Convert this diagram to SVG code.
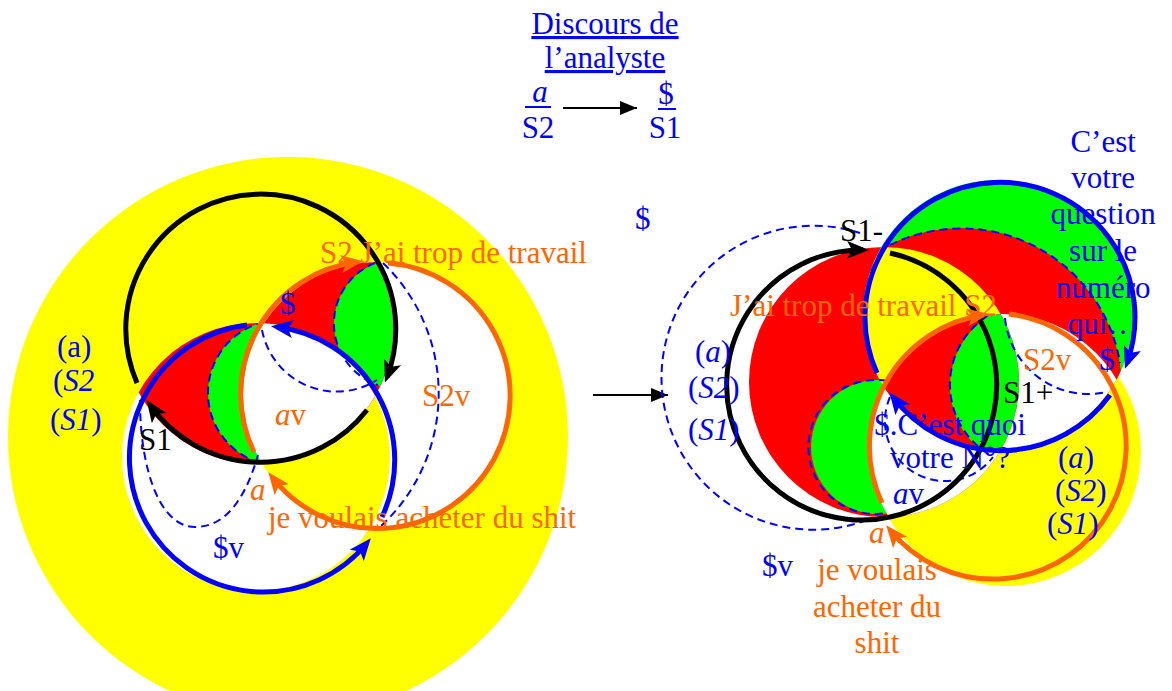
<svg xmlns="http://www.w3.org/2000/svg" width="1172" height="691" viewBox="0 0 1172 691">
<style>
.t{font-family:"Liberation Serif","Times New Roman",serif;font-size:31px}
.b{fill:#0000ff}.o{fill:#ff6600}.k{fill:#000}
.i{font-style:italic}
.ring{fill:none;stroke-width:5}
.rk{stroke:#000}.rb{stroke:#0000ff}.ro{stroke:#ff6600}
.dash{fill:none;stroke:#0000ff;stroke-width:2;stroke-dasharray:8 5}
.conn{stroke:#000;stroke-width:2;fill:none}
</style>
<defs>
<marker id="ak" markerUnits="userSpaceOnUse" markerWidth="24" markerHeight="20" refX="16" refY="9" orient="auto"><path d="M0,0 L22,9 L0,18 L5,9 Z" fill="#000"/></marker>
<marker id="ab" markerUnits="userSpaceOnUse" markerWidth="24" markerHeight="20" refX="16" refY="9" orient="auto"><path d="M0,0 L22,9 L0,18 L5,9 Z" fill="#0000ff"/></marker>
<marker id="ao" markerUnits="userSpaceOnUse" markerWidth="24" markerHeight="20" refX="16" refY="9" orient="auto"><path d="M0,0 L22,9 L0,18 L5,9 Z" fill="#ff6600"/></marker>
<marker id="as" markerUnits="userSpaceOnUse" markerWidth="20" markerHeight="16" refX="17" refY="7" orient="auto"><path d="M0,0 L17,7 L0,14 Z" fill="#000"/></marker>
<clipPath id="cB1"><circle cx="256" cy="457" r="134"/></clipPath>
<clipPath id="cO1"><circle cx="376" cy="395" r="133"/></clipPath>
<clipPath id="cK1"><circle cx="258" cy="329" r="135"/></clipPath>
<clipPath id="cB2"><circle cx="998" cy="315" r="135"/></clipPath>
<clipPath id="cO2"><circle cx="1002" cy="447" r="133"/></clipPath>
<clipPath id="cK2"><circle cx="884" cy="382" r="135"/></clipPath>
</defs>
<rect width="1172" height="691" fill="#fff"/>

<g id="title">
<text class="t b" x="605" y="34" text-anchor="middle" text-decoration="underline">Discours de</text>
<text class="t b" x="605" y="68" text-anchor="middle" text-decoration="underline">l’analyste</text>
<text class="t b i" x="540" y="102" text-anchor="middle">a</text>
<line x1="525" y1="107" x2="551" y2="107" stroke="#0000ff" stroke-width="2"/>
<text class="t b" x="538" y="138" text-anchor="middle">S2</text>
<text class="t b" x="666" y="104" text-anchor="middle">$</text>
<line x1="658" y1="109" x2="676" y2="109" stroke="#0000ff" stroke-width="2"/>
<text class="t b" x="665" y="138" text-anchor="middle">S1</text>
</g>

<g id="left-fills">
<circle cx="288" cy="437" r="280" fill="#ffff00"/>
<circle cx="256" cy="457" r="134" fill="#fff"/>
<circle cx="376" cy="395" r="133" fill="#fff"/>
<circle cx="376" cy="395" r="133" fill="#ffff00" clip-path="url(#cB1)"/>
<circle cx="258" cy="329" r="135" fill="#ff0000" clip-path="url(#cB1)"/>
<circle cx="258" cy="329" r="135" fill="#ff0000" clip-path="url(#cO1)"/>
<g clip-path="url(#cK1)"><circle cx="281" cy="393" r="73" fill="#00ff00" clip-path="url(#cB1)"/></g>
<g clip-path="url(#cK1)"><circle cx="399" cy="324" r="65" fill="#00ff00" clip-path="url(#cO1)"/></g>
<g clip-path="url(#cB1)"><circle cx="258" cy="329" r="135" fill="#fff" clip-path="url(#cO1)"/></g>
</g>

<g id="left-dashed">
<g clip-path="url(#cK1)"><path class="dash" d="M264,322 A73,73 0 0,0 264,464" clip-path="url(#cB1)"/></g>
<path class="dash" d="M375,263 A65,65 0 0,0 378,385"/>
<path class="dash" d="M262,330 A76,76 0 0,0 377,380"/>
<path class="dash" d="M383,263 A181,181 0 0,1 380,527"/>
<path class="dash" d="M140,400 C140,470 160,527 195,527 C225,527 245,500 258,455"/>
</g>

<g id="left-S1">
<path class="ring rk" d="M137,383 A135,135 0 1,1 387,377" marker-end="url(#ak)"/>
<path class="ring rk" d="M367,410 A135,135 0 0,1 150,405" marker-end="url(#ak)"/>
</g>
<g id="left-barred-S">
<path class="ring rb" d="M247,325 A134,134 0 1,0 367,543" marker-end="url(#ab)"/>
<path class="ring rb" d="M382,517 A134,134 0 0,0 277,327" marker-end="url(#ab)"/>
</g>
<g id="left-S2">
<path class="ring ro" d="M254,452 A133,133 0 0,1 357,262" marker-end="url(#ao)"/>
<path class="ring ro" d="M388,263 A133,133 0 1,1 272,477" marker-end="url(#ao)"/>
</g>

<g id="left-labels">
<text class="t o" x="320" y="263">S2 J’ai trop de travail</text>
<text class="t b" x="280" y="314">$</text>
<text class="t b" x="57" y="357">(a)</text>
<text class="t b" x="53" y="391">(<tspan class="i">S2</tspan></text>
<text class="t b" x="50" y="430">(<tspan class="i">S1</tspan>)</text>
<text class="t k" x="139" y="450">S1</text>
<text class="t o" x="275" y="425"><tspan class="i">a</tspan>v</text>
<text class="t o" x="422" y="406">S2v</text>
<text class="t o i" x="250" y="500">a</text>
<text class="t o" x="268" y="528">je voulais acheter du shit</text>
<text class="t b" x="213" y="558">$v</text>
</g>

<g id="connectors">
<line class="conn" x1="563" y1="108" x2="637" y2="108" marker-end="url(#as)"/>
<line class="conn" x1="593" y1="395" x2="668" y2="395" marker-end="url(#as)"/>
</g>

<g id="right-fills">
<circle cx="1006" cy="451" r="135" fill="#ffff00"/>
<circle cx="998" cy="315" r="135" fill="#00ff00"/>
<circle cx="961" cy="389" r="161" fill="#ff0000" clip-path="url(#cB2)"/>
<circle cx="884" cy="382" r="135" fill="#ff0000"/>
<circle cx="878" cy="447" r="67" fill="#00ff00" clip-path="url(#cK2)"/>
<circle cx="884" cy="382" r="135" fill="#ffff00" clip-path="url(#cB2)"/>
<circle cx="1002" cy="447" r="133" fill="#fff" clip-path="url(#cB2)"/>
<circle cx="1002" cy="447" r="133" fill="#fff" clip-path="url(#cK2)"/>
<g clip-path="url(#cB2)"><circle cx="1002" cy="447" r="133" fill="#ff0000" clip-path="url(#cK2)"/></g>
<g clip-path="url(#cB2)"><g clip-path="url(#cK2)"><circle cx="1032" cy="386" r="82" fill="#00ff00" clip-path="url(#cO2)"/></g></g>
</g>

<g id="right-dashed">
<path class="dash" d="M867,520 A152,152 0 1,1 860,233"/>
<path class="dash" d="M890,245 A161,161 0 0,1 1120,363"/>
<path class="dash" d="M987,316 A82,82 0 0,0 990,455"/>
<path class="dash" d="M887,381 A67,67 0 1,0 887,513" clip-path="url(#cK2)"/>
<path class="dash" d="M890,397 A60,60 0 0,0 993,457"/>
<path class="dash" d="M1005,318 A84,84 0 0,0 1107,392"/>
</g>

<g id="right-S1">
<path class="ring rk" d="M890,253 A135,135 0 1,1 863,250" marker-end="url(#ak)"/>
</g>
<g id="right-barred-S">
<path class="ring rb" d="M877,373 A135,135 0 1,1 1127,363" marker-end="url(#ab)"/>
<path class="ring rb" d="M1110,395 A135,135 0 0,1 893,397" marker-end="url(#ab)"/>
</g>
<g id="right-S2">
<path class="ring ro" d="M882,503 A133,133 0 0,1 983,315" marker-end="url(#ao)"/>
<path class="ring ro" d="M1009,314 A133,133 0 1,1 890,530" marker-end="url(#ao)"/>
</g>

<g id="right-labels">
<text class="t b" x="635" y="229">$</text>
<text class="t k" x="840" y="241">S1-</text>
<text class="t o" x="730" y="316">J’ai trop de travail S2</text>
<text class="t b" x="695" y="362">(<tspan class="i">a</tspan>)</text>
<text class="t b" x="688" y="398">(<tspan class="i">S2</tspan>)</text>
<text class="t b" x="688" y="440">(<tspan class="i">S1</tspan>)</text>
<text class="t b" text-anchor="middle">
<tspan x="1107" y="152">C’est</tspan>
<tspan x="1107" y="188">votre</tspan>
<tspan x="1107" y="224">question</tspan>
<tspan x="1107" y="261">sur le</tspan>
<tspan x="1107" y="298">numéro</tspan>
<tspan x="1107" y="334">qui…</tspan>
<tspan x="1107" y="370">$</tspan>
</text>
<text class="t o" x="1023" y="370">S2v</text>
<text class="t k" x="1003" y="403">S1+</text>
<text class="t b" text-anchor="middle"><tspan x="950" y="435">$.C’est quoi</tspan><tspan x="950" y="468">votre N°?</tspan></text>
<text class="t b" x="893" y="504"><tspan class="i">a</tspan>v</text>
<text class="t o i" x="869" y="543">a</text>
<text class="t b" x="762" y="576">$v</text>
<text class="t o" text-anchor="middle"><tspan x="877" y="580">je voulais</tspan><tspan x="877" y="617">acheter du</tspan><tspan x="877" y="653">shit</tspan></text>
<text class="t b" x="1058" y="468">(<tspan class="i">a</tspan>)</text>
<text class="t b" x="1055" y="501">(<tspan class="i">S2</tspan>)</text>
<text class="t b" x="1047" y="534">(<tspan class="i">S1</tspan>)</text>
</g>
</svg>
